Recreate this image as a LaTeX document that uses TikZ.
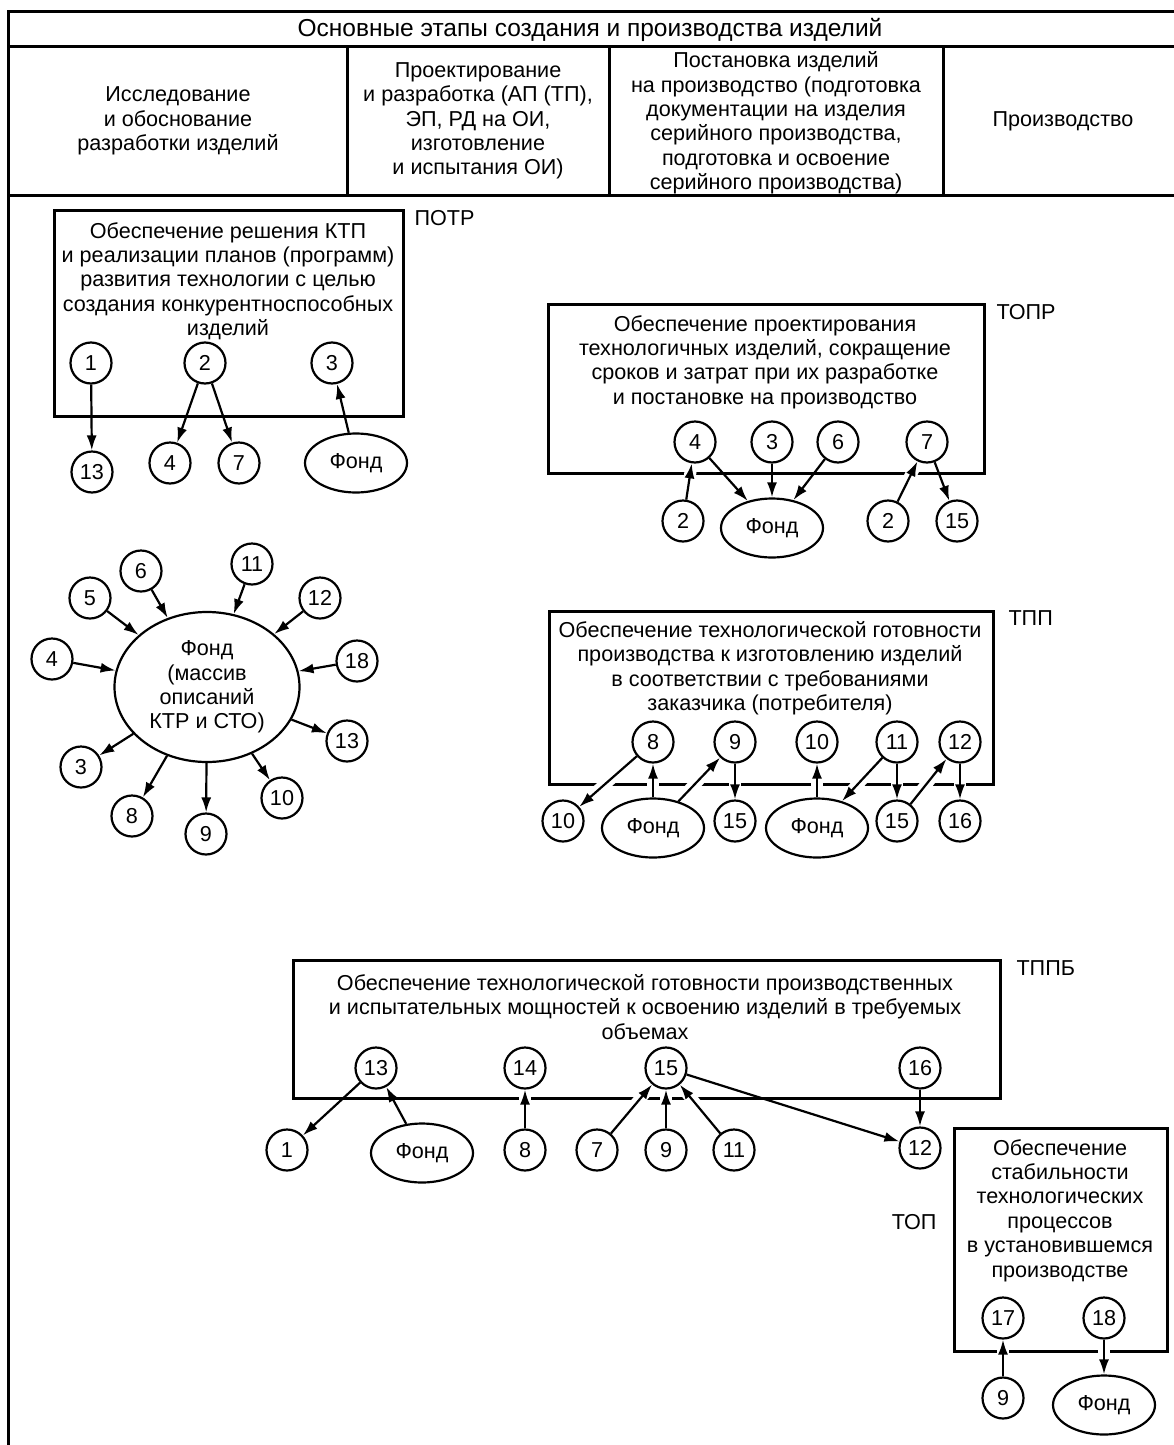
\documentclass[tikz,border=0pt]{standalone}
\usepackage{fontspec}
\setmainfont{Liberation Sans}
\usetikzlibrary{arrows.meta,shapes.geometric}
\tikzset{%
  frame lines/.style={line width=3pt},
  block/.style={draw, line width=2.5pt, inner sep=0pt, anchor=north west},
  block text/.style={anchor=north, align=center, inner sep=0pt},
  num/.style={circle, draw, line width=2.2pt, minimum size=41pt, inner sep=0pt},
  fund/.style={ellipse, draw, line width=2.2pt, minimum width=102pt, minimum height=59pt, inner sep=0pt},
  link/.style={line width=2.2pt, -{Latex[length=15pt,width=10pt]}},
  gap/.style={draw=white, line width=12pt, shorten <=6pt, shorten >=6pt}
}

\begin{document}
\begin{tikzpicture}[x=1pt, y=-1pt, font=\fontsize{21.6}{24.4}\selectfont]
  \useasboundingbox (0,0) rectangle (1174,1445);
  % Table head:
  \draw[frame lines] (8,1445) -- (8,12) -- (1174,12);
  \draw[frame lines] (8,47) -- (1174,47) (8,195) -- (1174,195);
  \foreach \x in {347,609,943} {
    \draw[frame lines] (\x,47) -- (\x,195);
  }
  \node[font=\fontsize{24.5}{28}\selectfont] (title) at (590,30) {Основные этапы создания и производства изделий};
  \node[align=center] (stage1) at (178,121) {Исследование\\и обоснование\\разработки изделий};
  \node[align=center] (stage2) at (478,121) {Проектирование\\и разработка (АП (ТП),\\ЭП, РД на ОИ,\\изготовление\\и испытания ОИ)};
  \node[align=center] (stage3) at (776,123) {Постановка изделий\\на производство (подготовка\\документации на изделия\\серийного производства,\\подготовка и освоение\\серийного производства)};
  \node (stage4) at (1063,121) {Производство};

  % Block POTR:
  \node[block, minimum width=349pt, minimum height=206pt] (potr) at (53,209) {};
  \node[anchor=west] (potrtag) at (411,218) {ПОТР};
  \node[block text] (potrtext) at (228,222) {Обеспечение решения КТП\\и реализации планов (программ)\\развития технологии с целью\\создания конкурентноспособных\\изделий};
  \node[num] (p1) at (91,363) {1};
  \node[num] (p2) at (205,363) {2};
  \node[num] (p3) at (332,363) {3};
  \node[num] (p13) at (92,472) {13};
  \node[num] (p4) at (170,463) {4};
  \node[num] (p7) at (239,463) {7};
  \node[fund] (pfund) at (356,463) {Фонд};

  % Block TOPR:
  \node[block, minimum width=436pt, minimum height=169pt] (topr) at (547,303) {};
  \node[anchor=west] (toprtag) at (993,312) {ТОПР};
  \node[block text] (toprtext) at (765,315) {Обеспечение проектирования\\технологичных изделий, сокращение\\сроков и затрат при их разработке\\и постановке на производство};
  \node[num] (r4) at (695,442) {4};
  \node[num] (r3) at (772,442) {3};
  \node[num] (r6) at (838,442) {6};
  \node[num] (r7) at (927,442) {7};
  \node[num] (r2a) at (683,521) {2};
  \node[fund] (rfund) at (772,528) {Фонд};
  \node[num] (r2b) at (888,521) {2};
  \node[num] (r15) at (957,521) {15};

  % Fund of descriptions:
  \node[fund, minimum width=185pt, minimum height=150pt, align=center] (fund) at (207,687) {Фонд\\(массив\\описаний\\КТР и СТО)};
  \foreach \n/\x/\y in {4/52/659, 5/90/598, 6/141/571, 11/252/564, 12/320/598, 18/357/661,
                        13/347/741, 10/282/798, 9/206/834, 8/132/816, 3/81/767} {
    \node[num] (s\n) at (\x,\y) {\n};
  }

  % Block TPP:
  \node[block, minimum width=444pt, minimum height=173pt] (tpp) at (548,610) {};
  \node[anchor=west] (tpptag) at (1005,618) {ТПП};
  \node[block text] (tpptext) at (770,621) {Обеспечение технологической готовности\\производства к изготовлению изделий\\в соответствии с требованиями\\заказчика (потребителя)};
  \node[num] (t8) at (653,742) {8};
  \node[num] (t9) at (735,742) {9};
  \node[num] (t10) at (817,742) {10};
  \node[num] (t11) at (897,742) {11};
  \node[num] (t12) at (960,742) {12};
  \node[num] (t10b) at (563,821) {10};
  \node[fund] (tfund1) at (653,828) {Фонд};
  \node[num] (t15a) at (735,821) {15};
  \node[fund] (tfund2) at (817,828) {Фонд};
  \node[num] (t15b) at (897,821) {15};
  \node[num] (t16) at (960,821) {16};

  % Block TPPB:
  \node[block, minimum width=707pt, minimum height=138pt] (tppb) at (292,959) {};
  \node[anchor=west] (tppbtag) at (1013,968) {ТППБ};
  \node[block text] (tppbtext) at (645,974) {Обеспечение технологической готовности производственных\\и испытательных мощностей к освоению изделий в требуемых\\объемах};
  \node[num] (b13) at (376,1068) {13};
  \node[num] (b14) at (525,1068) {14};
  \node[num] (b15) at (666,1068) {15};
  \node[num] (b16) at (920,1068) {16};
  \node[num] (b1) at (287,1150) {1};
  \node[fund] (bfund) at (422,1153) {Фонд};
  \node[num] (b8) at (525,1150) {8};
  \node[num] (b7) at (597,1150) {7};
  \node[num] (b9) at (666,1150) {9};
  \node[num] (b11) at (734,1150) {11};
  \node[num] (b12) at (920,1148) {12};

  % Block TOP:
  \node[block, minimum width=213pt, minimum height=223pt] (top) at (953,1127) {};
  \node[anchor=east] (toptag) at (940,1222) {ТОП};
  \node[block text] (toptext) at (1060,1139) {Обеспечение\\стабильности\\технологических\\процессов\\в установившемся\\производстве};
  \node[num] (o17) at (1003,1318) {17};
  \node[num] (o18) at (1104,1318) {18};
  \node[num] (o9) at (1003,1398) {9};
  \node[fund] (ofund) at (1104,1405) {Фонд};

  % white gaps where arrows cut the block frames
  \foreach \a/\b in {r2a/r4, r2b/r7, t8/t10b, tfund1/t8, tfund1/t9, t9/t15a, tfund2/t10,
                     t11/tfund2, t11/t15b, t15b/t12, t12/t16, b8/b14, b7/b15, b9/b15, b11/b15,
                     o9/o17, o18/ofund} {
    \draw[gap] (\a) -- (\b);
  }
  % arrows
  \foreach \a/\b in {p1/p13, p2/p4, p2/p7, pfund/p3,
                     r2a/r4, r4/rfund, r3/rfund, r6/rfund, r2b/r7, r7/r15,
                     s4/fund, s5/fund, s6/fund, s11/fund, s12/fund, s18/fund,
                     fund/s3, fund/s8, fund/s9, fund/s10, fund/s13,
                     t8/t10b, tfund1/t8, tfund1/t9, t9/t15a, tfund2/t10, t11/tfund2,
                     t11/t15b, t15b/t12, t12/t16,
                     b13/b1, bfund/b13, b8/b14, b7/b15, b9/b15, b11/b15, b15/b12, b16/b12,
                     o9/o17, o18/ofund} {
    \draw[link] (\a) -- (\b);
  }
\end{tikzpicture}
\end{document}
